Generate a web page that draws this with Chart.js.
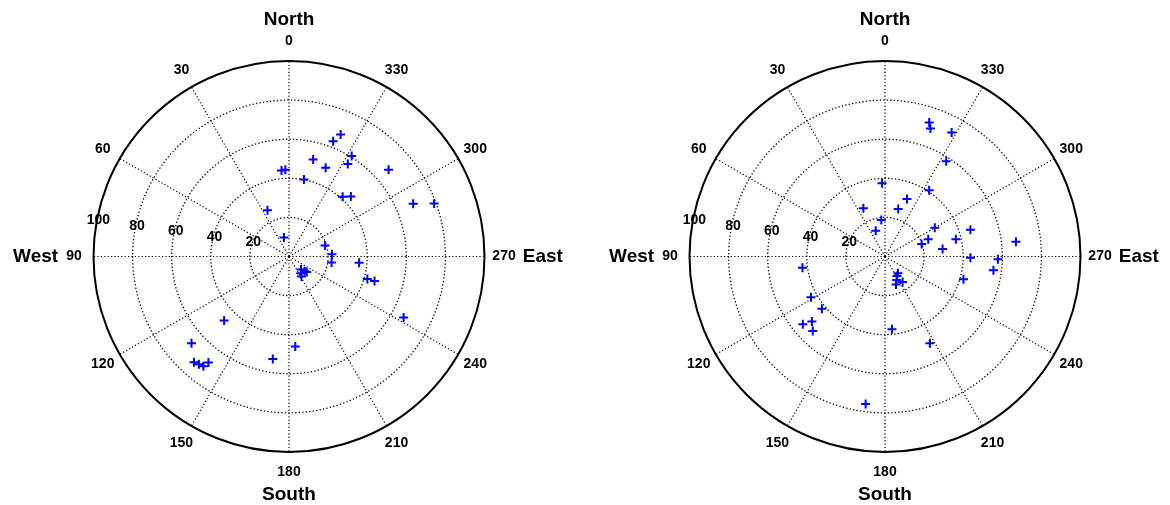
<!DOCTYPE html>
<html>
<head>
<meta charset="utf-8">
<script src="https://cdn.jsdelivr.net/npm/chart.js@4.4.1/dist/chart.umd.min.js"></script>
<style>
    html, body { margin: 0; padding: 0; background: #fff; overflow: hidden; }
    #wrap { position: relative; width: 1170px; height: 505px; }
    canvas { position: absolute; top: 0; }
</style>
</head>
<body>
<div id="wrap">
    <canvas id="polar-left" width="585" height="505" style="left:0px"></canvas>
    <canvas id="polar-right" width="585" height="505" style="left:585px"></canvas>
</div>
<script>
// --- datos del gráfico polar ---
const ringTicks = [20, 40, 60, 80];
const radialLabels = ['20', '40', '60', '80', '100'];
const spokeAngles = [0, 30, 60, 90, 120, 150, 180, 210, 240, 270, 300, 330];
const angleLabels = ['0', '30', '60', '90', '120', '150', '180', '210', '240', '270', '300', '330'];
const compassNames = ['North', 'West', 'South', 'East'];
const rMax = 100;

// azimut (grados, antihorario desde el norte) y radio de cada punto
const leftAzimuth = [337, 339, 328, 346, 337.5, 327.5, 311, 5, 2.4, 349, 318, 314, 293, 290,
    25, 15, 287, 273, 262, 265, 254, 254,
    223, 226.5, 229, 215, 212,
    242, 134.5, 131.6, 138, 140, 142, 142.7, 184, 171];
const leftRadius = [67.6, 63, 60.5, 51, 49, 56, 67.5, 44, 44.3, 40, 41, 44, 69, 79,
    26, 10, 19.3, 22, 22, 36, 41.7, 45.5,
    9, 11, 12, 10.5, 12,
    66.4, 46.5, 66.7, 72.6, 71.7, 71.1, 68, 46, 53];

const rightAzimuth = [341.7, 340.4, 331.7, 327.2, 2.3, 326.2, 339, 24.2, 344.4, 5.8, 19.8,
    300, 287.4, 291.7, 288.8, 283.6, 277.4, 276.4, 269.2, 268.6, 262.8, 253.8,
    217.7, 211.6, 206.5, 201.6, 214.8,
    185.5, 207.4, 172.5, 97.7, 118.8, 129.6, 129.4, 131.6, 135.8];
const rightRadius = [72, 69.3, 71.9, 57.8, 37.4, 40.6, 31.4, 27, 25.2, 18.7, 14,
    29.4, 45.8, 23.8, 19.8, 37.3, 29.7, 67.4, 43.7, 57.8, 55.9, 41.8,
    10.8, 11.7, 13.4, 15.3, 15.8,
    37.3, 49.9, 75.9, 42.6, 43.2, 41.9, 54.4, 50, 53];

const FONT = "'Liberation Sans', Arial, sans-serif";

function aXY(az, r) {
    const t = az * Math.PI / 180;
    return { x: -r * Math.sin(t), y: r * Math.cos(t) };
}

const polarGrid = {
    id: 'polarGrid',
    beforeDatasetsDraw(chart) {
        const ctx = chart.ctx;
        const xs = chart.scales.x, ys = chart.scales.y;
        const cx = xs.getPixelForValue(0), cy = ys.getPixelForValue(0);
        const unit = xs.getPixelForValue(1) - cx;
        ctx.save();
        ctx.strokeStyle = '#000';
        ctx.lineWidth = 1.3;
        ctx.setLineDash([1.3, 2.2]);
        ringTicks.forEach(r => {
            ctx.beginPath();
            ctx.arc(cx, cy, r * unit, 0, Math.PI * 2);
            ctx.stroke();
        });
        ctx.lineWidth = 1.2;
        ctx.setLineDash([1.2, 2.2]);
        spokeAngles.forEach(a => {
            const p = aXY(a, rMax);
            ctx.beginPath();
            ctx.moveTo(cx, cy);
            ctx.lineTo(xs.getPixelForValue(p.x), ys.getPixelForValue(p.y));
            ctx.stroke();
        });
        ctx.setLineDash([]);
        ctx.strokeStyle = '#000';
        ctx.lineWidth = 2;
        ctx.beginPath();
        ctx.arc(cx, cy, rMax * unit, 0, Math.PI * 2);
        ctx.stroke();
        ctx.restore();
    },
    afterDraw(chart) {
        const ctx = chart.ctx;
        const xs = chart.scales.x, ys = chart.scales.y;
        const px = p => ({ x: xs.getPixelForValue(p.x), y: ys.getPixelForValue(p.y) });
        ctx.save();
        ctx.fillStyle = '#000';
        ctx.textAlign = 'center';
        ctx.textBaseline = 'middle';
        ctx.font = 'bold 14px ' + FONT;

        // etiquetas de ángulo
        let pos90 = null, pos270 = null;
        spokeAngles.forEach((a, i) => {
            const p = px(aXY(a, rMax * 1.1));
            ctx.fillText(angleLabels[i], p.x, p.y);
            if (a === 90) pos90 = { x: p.x, y: p.y, w: ctx.measureText(angleLabels[i]).width };
            if (a === 270) pos270 = { x: p.x, y: p.y, w: ctx.measureText(angleLabels[i]).width };
        });

        // etiquetas radiales (cerca del eje 82°)
        radialLabels.forEach(lbl => {
            const r = parseFloat(lbl);
            const p = px(aXY(82, r));
            ctx.fillText(lbl, p.x + 3, p.y - 8.6);
        });

        // puntos cardinales
        ctx.font = 'bold 19px ' + FONT;
        const n = px(aXY(0, 120.7));
        ctx.fillText(compassNames[0], n.x, n.y);
        const s = px(aXY(180, 121.5));
        ctx.fillText(compassNames[2], s.x, s.y);
        ctx.textAlign = 'right';
        ctx.fillText(compassNames[1], pos90.x - pos90.w / 2 - 8, pos90.y);
        ctx.textAlign = 'left';
        ctx.fillText(compassNames[3], pos270.x + pos270.w / 2 + 7, pos270.y);
        ctx.restore();
    }
};

function dibujarPolar(canvasId, azimuths, radii, pad) {
    const puntos = azimuths.map((a, i) => aXY(a, radii[i]));
    return new Chart(document.getElementById(canvasId), {
        type: 'scatter',
        data: {
            datasets: [{
                data: puntos,
                pointStyle: 'cross',
                pointRadius: 4.5,
                pointBorderWidth: 2,
                borderColor: '#0000ff',
                backgroundColor: '#0000ff'
            }]
        },
        options: {
            responsive: false,
            animation: false,
            devicePixelRatio: 1,
            layout: { padding: pad },
            plugins: { legend: { display: false }, tooltip: { enabled: false } },
            scales: {
                x: { type: 'linear', min: -rMax, max: rMax, display: false },
                y: { type: 'linear', min: -rMax, max: rMax, display: false }
            }
        },
        plugins: [polarGrid]
    });
}

dibujarPolar('polar-left', leftAzimuth, leftRadius, { left: 93.5, right: 100.5, top: 60.5, bottom: 52.5 });
dibujarPolar('polar-right', rightAzimuth, rightRadius, { left: 104.5, right: 89.5, top: 60.5, bottom: 52.5 });
</script>
</body>
</html>
